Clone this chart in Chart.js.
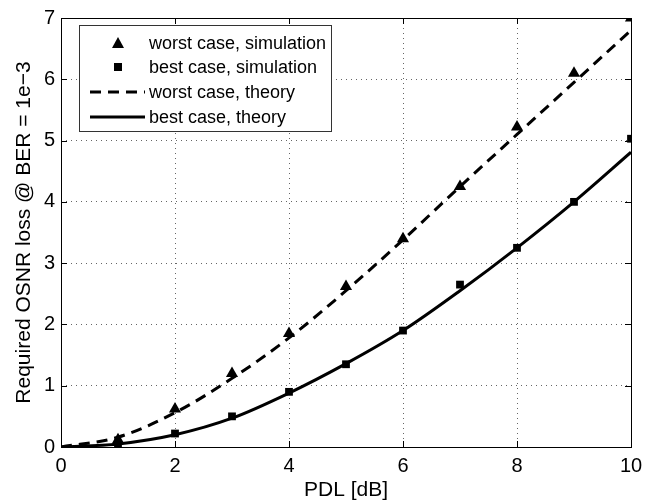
<!DOCTYPE html>
<html>
<head>
<meta charset="utf-8">
<script src="https://cdn.jsdelivr.net/npm/chart.js@4"></script>
<style>
  html, body { margin: 0; padding: 0; background: #fff; }
  #wrap { width: 658px; height: 504px; }
</style>
</head>
<body>
<div id="wrap"><canvas id="osnr" width="658" height="504"></canvas></div>
<script>
// PDL values [dB]
const pdlSim = [1, 2, 3, 4, 5, 6, 7, 8, 9, 10];
const pdlTheory = [0, 1, 2, 3, 4, 5, 6, 7, 8, 9, 10];

// OSNR loss
const worstSim = [0.12, 0.62, 1.2, 1.85, 2.62, 3.4, 4.25, 5.22, 6.1, 7.0];
const bestSim = [0.04, 0.22, 0.5, 0.9, 1.35, 1.9, 2.65, 3.25, 4.0, 5.03];
const worstTheory = [0, 0.16, 0.56, 1.12, 1.78, 2.55, 3.38, 4.25, 5.1, 5.95, 6.8];
const bestTheory = [0, 0.05, 0.2, 0.47, 0.88, 1.36, 1.9, 2.55, 3.25, 4.0, 4.81];

const xTicks = [0, 2, 4, 6, 8, 10];
const yTicks = [0, 1, 2, 3, 4, 5, 6, 7];

const legendItems = ['worst case, simulation', 'best case, simulation', 'worst case, theory', 'best case, theory'];

const FONT = '"Liberation Sans", Arial, sans-serif';
const DASH = [11, 7];

function toXY(xs, ys) {
    return xs.map((x, i) => ({ x: x, y: ys[i] }));
}

// Box, inward ticks and legend drawn on top, like MATLAB
const matlabFrame = {
    id: 'matlabFrame',
    afterDraw(chart) {
        const ctx = chart.ctx;
        const a = chart.chartArea;
        const xs = chart.scales.x;
        const ys = chart.scales.y;
        ctx.save();
        ctx.strokeStyle = '#000';
        ctx.lineWidth = 1;
        ctx.beginPath();
        xTicks.forEach(v => {
            const px = Math.round(xs.getPixelForValue(v)) + 0.5;
            ctx.moveTo(px, a.bottom); ctx.lineTo(px, a.bottom - 6);
            ctx.moveTo(px, a.top); ctx.lineTo(px, a.top + 6);
        });
        yTicks.forEach(v => {
            const py = Math.round(ys.getPixelForValue(v)) + 0.5;
            ctx.moveTo(a.left, py); ctx.lineTo(a.left + 6, py);
            ctx.moveTo(a.right, py); ctx.lineTo(a.right - 6, py);
        });
        ctx.stroke();
        ctx.strokeRect(Math.round(a.left) + 0.5, Math.round(a.top) + 0.5,
            Math.round(a.right - a.left), Math.round(a.bottom - a.top));

        // legend
        const lx = 79, ly = 25, lw = 252, lh = 106;
        ctx.fillStyle = '#fff';
        ctx.fillRect(lx, ly, lw, lh);
        ctx.strokeStyle = '#333';
        ctx.strokeRect(lx + 0.5, ly + 0.5, lw, lh);
        ctx.strokeStyle = '#000';
        ctx.font = '18px ' + FONT;
        ctx.textBaseline = 'middle';
        ctx.textAlign = 'left';
        const rows = [43, 67, 92, 117];
        legendItems.forEach((t, i) => {
            const y = rows[i];
            ctx.fillStyle = '#000';
            if (i === 0) {
                ctx.beginPath();
                ctx.moveTo(118, y - 6); ctx.lineTo(124, y + 5); ctx.lineTo(112, y + 5);
                ctx.closePath(); ctx.fill();
            } else if (i === 1) {
                ctx.fillRect(114, y - 4, 8, 8);
            } else {
                ctx.save();
                ctx.lineWidth = 3;
                if (i === 2) ctx.setLineDash(DASH);
                ctx.beginPath();
                ctx.moveTo(90, y); ctx.lineTo(145, y);
                ctx.stroke();
                ctx.restore();
            }
            ctx.fillText(t, 149, y + 1);
        });
        ctx.restore();
    }
};

new Chart(document.getElementById('osnr'), {
    type: 'line',
    data: {
        datasets: [
            {
                label: legendItems[2],
                data: toXY(pdlTheory, worstTheory),
                borderColor: '#000',
                borderWidth: 3,
                borderDash: DASH,
                pointRadius: 0,
                cubicInterpolationMode: 'monotone'
            },
            {
                label: legendItems[3],
                data: toXY(pdlTheory, bestTheory),
                borderColor: '#000',
                borderWidth: 3,
                pointRadius: 0,
                cubicInterpolationMode: 'monotone'
            },
            {
                label: legendItems[0],
                data: toXY(pdlSim, worstSim),
                showLine: false,
                pointStyle: 'triangle',
                pointRadius: 7,
                backgroundColor: '#000',
                borderColor: '#000',
                borderWidth: 0
            },
            {
                label: legendItems[1],
                data: toXY(pdlSim, bestSim),
                showLine: false,
                pointStyle: 'rect',
                pointRadius: 5.5,
                backgroundColor: '#000',
                borderColor: '#000',
                borderWidth: 0
            }
        ]
    },
    options: {
        responsive: false,
        animation: false,
        layout: { padding: { left: 0, right: 27, top: 12, bottom: 0 } },
        plugins: {
            legend: { display: false },
            tooltip: { enabled: false }
        },
        scales: {
            x: {
                type: 'linear',
                min: 0,
                max: 10,
                afterBuildTicks: s => { s.ticks = xTicks.map(v => ({ value: v })); },
                afterFit: s => { s.height = 57; },
                grid: { color: '#666', lineWidth: 1, drawTicks: false },
                border: { display: false, dash: [1, 4] },
                ticks: { color: '#000', padding: 7, font: { family: FONT, size: 20 } },
                title: {
                    display: true,
                    text: 'PDL [dB]',
                    color: '#000',
                    padding: { top: 0, bottom: 1 },
                    font: { family: FONT, size: 21 }
                }
            },
            y: {
                min: 0,
                max: 7,
                afterBuildTicks: s => { s.ticks = yTicks.map(v => ({ value: v })); },
                afterFit: s => { s.width = 61; },
                grid: { color: '#666', lineWidth: 1, drawTicks: false },
                border: { display: false, dash: [1, 4] },
                ticks: { color: '#000', padding: 6, font: { family: FONT, size: 20 } },
                title: {
                    display: true,
                    text: 'Required OSNR loss @ BER = 1e\u22123',
                    color: '#000',
                    padding: { top: 12, bottom: 0 },
                    font: { family: FONT, size: 21 }
                }
            }
        }
    },
    plugins: [matlabFrame]
});
</script>
</body>
</html>
